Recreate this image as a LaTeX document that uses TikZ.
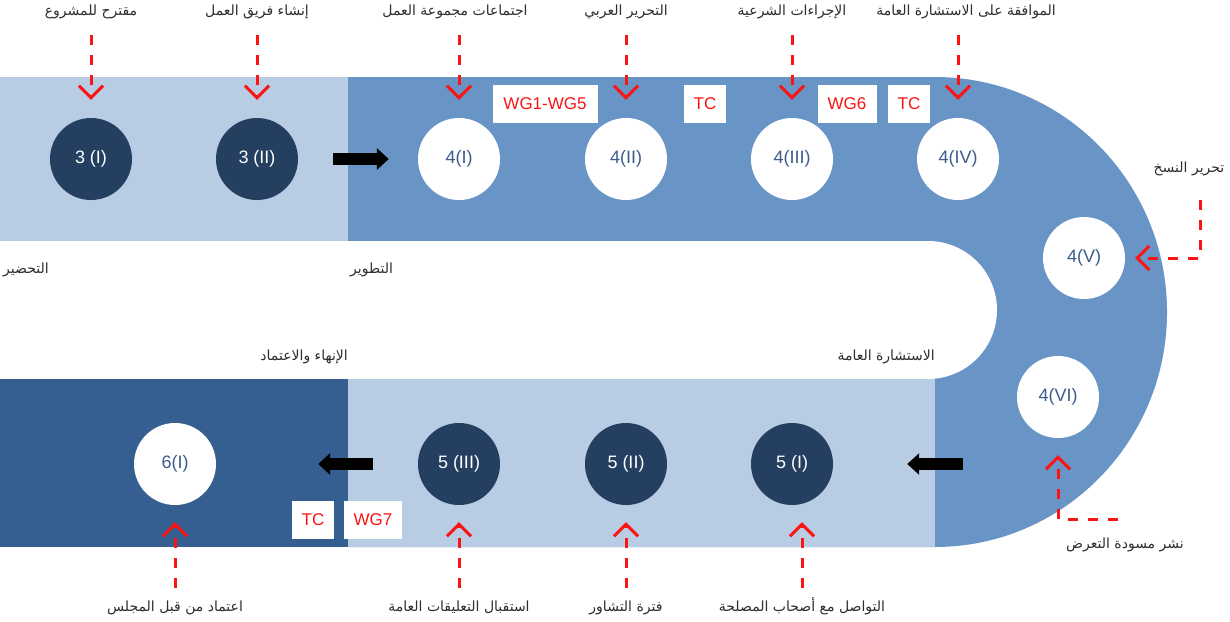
\documentclass[tikz,border=0pt]{standalone}
\usepackage{fontspec}
\setmainfont{Liberation Sans}
\newfontfamily\arabicfont[Script=Arabic]{DejaVu Sans}
\TeXXeTstate=1
\usetikzlibrary{arrows.meta}
\definecolor{bandlight}{HTML}{B8CCE4}
\definecolor{bandmid}{HTML}{6994C6}
\definecolor{banddark}{HTML}{365F91}
\definecolor{stepdark}{HTML}{243F60}
\definecolor{steptext}{HTML}{3A5D8D}
\definecolor{markred}{HTML}{FA1414}
\definecolor{labelgrey}{HTML}{2E2E2E}
\newcommand{\artext}[1]{{\arabicfont\beginR #1\endR}}
\tikzset{
  darkstep/.style={circle,fill=stepdark,text=white,minimum size=82pt,inner sep=0pt,font=\fontsize{18}{20}\selectfont},
  lightstep/.style={circle,fill=white,text=steptext,minimum size=82pt,inner sep=0pt,font=\fontsize{18}{20}\selectfont},
  tag/.style={fill=white,text=markred,minimum height=38pt,inner sep=0pt,font=\fontsize{17}{19}\selectfont},
  note/.style={text=labelgrey,inner sep=0pt,text height=10pt,text depth=4pt,font=\fontsize{14}{16}\selectfont},
  callout/.style={draw=markred,line width=3pt,dash pattern=on 10pt off 10pt,-{Straight Barb[length=12pt,width=24pt]}},
  flow/.style={line width=12pt,-{Triangle[length=12pt,width=21pt]}}
}
\begin{document}
\begin{tikzpicture}[x=1pt,y=-1pt]
\useasboundingbox (0,0) rectangle (1230,621);
\fill[white] (0,0) rectangle (1230,621);
\fill[bandmid] (348,77) -- (935,77) arc[start angle=-90,end angle=90,x radius=232,y radius=235] -- (348,547) -- cycle;
\fill[white] (348,241) -- (928,241) arc[start angle=-90,end angle=90,radius=69] -- (348,379) -- cycle;
\fill[bandlight] (0,77) rectangle (348,241);
\fill[bandlight] (348,379) rectangle (935,547);
\fill[banddark] (0,379) rectangle (348,547);

\node[darkstep] (c3a) at (91,159) {3 (I)};
\node[darkstep] (c3b) at (257,159) {3 (II)};
\node[lightstep] (c4a) at (459,159) {4(I)};
\node[lightstep] (c4b) at (626,159) {4(II)};
\node[lightstep] (c4c) at (792,159) {4(III)};
\node[lightstep] (c4d) at (958,159) {4(IV)};
\node[lightstep] (c4e) at (1084,258) {4(V)};
\node[lightstep] (c4f) at (1058,397) {4(VI)};
\node[darkstep] (c5a) at (792,464) {5 (I)};
\node[darkstep] (c5b) at (626,464) {5 (II)};
\node[darkstep] (c5c) at (459,464) {5 (III)};
\node[lightstep] (c6a) at (175,464) {6(I)};

\node[tag,minimum width=105pt] (wg15) at (545,104) {WG1-WG5};
\node[tag,minimum width=42pt] (tc1) at (705,104) {TC};
\node[tag,minimum width=59pt] (wg6) at (847,104) {WG6};
\node[tag,minimum width=42pt] (tc2) at (909,104) {TC};
\node[tag,minimum width=42pt] (tc3) at (313,520) {TC};
\node[tag,minimum width=58pt] (wg7) at (373,520) {WG7};

\node[note] (l3a) at (91,12) {\artext{مقترح للمشروع}};
\node[note] (l3b) at (257,12) {\artext{إنشاء فريق العمل}};
\node[note] (l4a) at (455,12) {\artext{اجتماعات مجموعة العمل}};
\node[note] (l4b) at (626,12) {\artext{التحرير العربي}};
\node[note] (l4c) at (792,12) {\artext{الإجراءات الشرعية}};
\node[note] (l4d) at (966,12) {\artext{الموافقة على الاستشارة العامة}};
\node[note] (l4e) at (1189,169) {\artext{تحرير النسخ}};
\node[note] (l4f) at (1125,545) {\artext{نشر مسودة التعرض}};
\node[note] (l5a) at (802,608) {\artext{التواصل مع أصحاب المصلحة}};
\node[note] (l5b) at (626,608) {\artext{فترة التشاور}};
\node[note] (l5c) at (459,608) {\artext{استقبال التعليقات العامة}};
\node[note] (l6a) at (175,608) {\artext{اعتماد من قبل المجلس}};

\node[note,anchor=west] (sprep) at (3,270) {\artext{التحضير}};
\node[note,anchor=west] (sdev) at (350,270) {\artext{التطوير}};
\node[note,anchor=east] (sfin) at (348,357) {\artext{الإنهاء والاعتماد}};
\node[note,anchor=east] (scons) at (935,357) {\artext{الاستشارة العامة}};

\foreach \l/\c in {l3a/c3a,l3b/c3b,l4a/c4a,l4b/c4b,l4c/c4c,l4d/c4d}
  \draw[callout,shorten <=16pt,shorten >=18pt] (\l.south -| \c) -- (\c);
\foreach \l/\c in {l6a/c6a,l5c/c5c,l5b/c5b}
  \draw[callout,shorten <=13pt,shorten >=17pt] (\l) -- (\c);
\draw[callout,shorten <=13pt,shorten >=17pt] (l5a.north) -- (c5a.south -| l5a);
\coordinate (k4e) at (1200,200);
\coordinate (k4f) at (1118,519);
\draw[callout,shorten >=10pt] (k4e) |- (c4e);
\draw[callout,shorten >=17pt] (k4f) -| (c4f);

\draw[flow,shorten <=35pt,shorten >=29pt] (c3b) -- (c4a);
\draw[flow,shorten <=45pt,shorten >=102pt] (c5c) -- (c6a);
\coordinate (k5a) at (963,464);
\draw[flow,shorten >=74pt] (k5a) -- (c5a);
\end{tikzpicture}
\end{document}
